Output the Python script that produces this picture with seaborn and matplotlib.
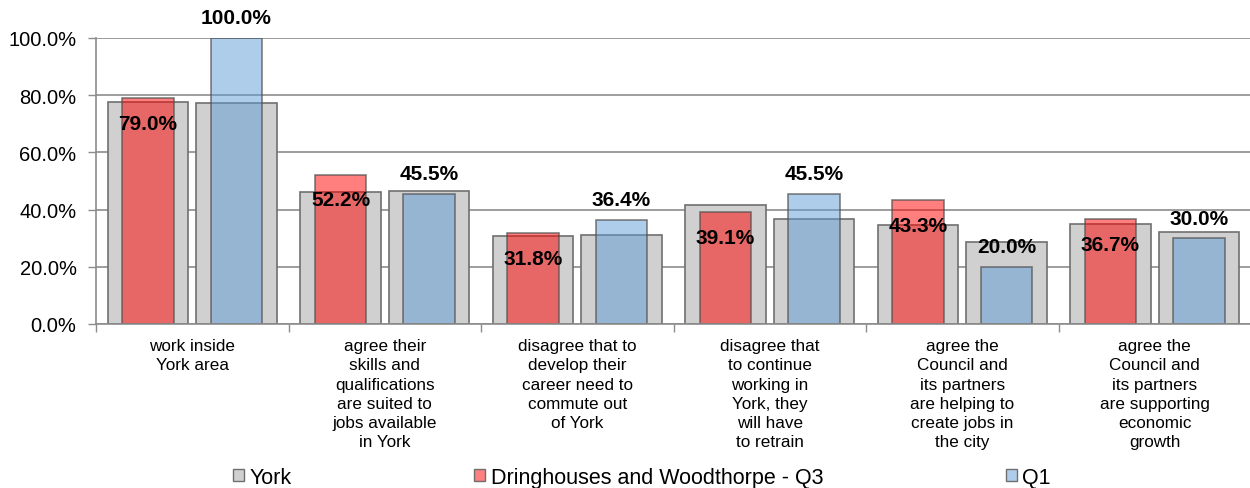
import pandas as pd
import numpy as np
import matplotlib.pyplot as plt
from matplotlib.patches import Patch
from matplotlib.ticker import PercentFormatter, FixedLocator
import seaborn as sns

sns.set_theme(style="white")
plt.rcParams['font.family'] = ['Liberation Sans', 'DejaVu Sans']
plt.rcParams['text.color'] = 'black'
plt.rcParams['xtick.color'] = 'black'
plt.rcParams['ytick.color'] = 'black'

# categories and values
categories = [
    "work inside\nYork area",
    "agree their\nskills and\nqualifications\nare suited to\njobs available\nin York",
    "disagree that to\ndevelop their\ncareer need to\ncommute out\nof York",
    "disagree that\nto continue\nworking in\nYork, they\nwill have\nto retrain",
    "agree the\nCouncil and\nits partners\nare helping to\ncreate jobs in\nthe city",
    "agree the\nCouncil and\nits partners\nare supporting\neconomic\ngrowth",
]
york_q3 = [77.7, 46.2, 30.9, 41.7, 34.7, 35.1]
york_q1 = [77.3, 46.6, 31.1, 36.8, 28.8, 32.3]
ward_q3 = [79.0, 52.2, 31.8, 39.1, 43.3, 36.7]
ward_q1 = [100.0, 45.5, 36.4, 45.5, 20.0, 30.0]
quarters = ["Q3", "Q1"]

york_df = pd.DataFrame({
    "category": categories * 2,
    "quarter": ["Q3"] * 6 + ["Q1"] * 6,
    "value": york_q3 + york_q1,
})
ward_df = pd.DataFrame({
    "category": categories * 2,
    "quarter": ["Q3"] * 6 + ["Q1"] * 6,
    "value": ward_q3 + ward_q1,
})

fig = plt.figure(figsize=(12.5, 4.89), dpi=100)
ax = fig.add_axes([96 / 1250, 1 - 325 / 489, 1155 / 1250, 286 / 489])

# wide grey York bars behind
sns.barplot(data=york_df, x="category", y="value", hue="quarter", hue_order=quarters,
            palette=["#D0D0D0", "#D0D0D0"], width=0.92, gap=0.087,
            edgecolor="#6F6F6F", linewidth=1.2, errorbar=None, legend=False, ax=ax)
# narrow ward bars in front (semi transparent)
sns.barplot(data=ward_df, x="category", y="value", hue="quarter", hue_order=quarters,
            palette=["#FF0000", "#5F9BD7"], width=0.92, gap=0.42,
            edgecolor="#555555", linewidth=1.2, errorbar=None, legend=False, ax=ax)

red_bars = ax.containers[2]
blue_bars = ax.containers[3]
for b in red_bars:
    b.set_facecolor((1.0, 0.0, 0.0, 0.5))
    b.set_edgecolor((0.3, 0.3, 0.3, 0.7))
for b in blue_bars:
    b.set_facecolor((0.37, 0.61, 0.84, 0.5))
    b.set_edgecolor((0.3, 0.3, 0.3, 0.7))

# data labels
for b, v in zip(red_bars, ward_q3):
    ax.annotate(f"{v:.1f}%", (b.get_x() + b.get_width() / 2, b.get_height()),
                xytext=(0, -18), textcoords="offset points", ha="center", va="center",
                fontsize=15, fontweight="bold", color="black", annotation_clip=False)
for b, v in zip(blue_bars, ward_q1):
    ax.annotate(f"{v:.1f}%", (b.get_x() + b.get_width() / 2, b.get_height()),
                xytext=(0, 14.5), textcoords="offset points", ha="center", va="center",
                fontsize=15, fontweight="bold", color="black", annotation_clip=False)

ax.set_ylim(0, 100)
ax.set_xlim(-0.5, 5.5)
ax.set_yticks(np.arange(0, 101, 20))
ax.yaxis.set_major_formatter(PercentFormatter(decimals=1))
ax.set_axisbelow(True)
ax.yaxis.grid(True, color="#8C8C8C", linewidth=1.2)
ax.xaxis.grid(False)
ax.set_xlabel("")
ax.set_ylabel("")

ax.tick_params(axis="y", length=6, width=1, color="#8C8C8C", direction="out",
               labelsize=14.5, labelcolor="black", pad=8, left=True)
ax.tick_params(axis="x", which="major", length=0, labelsize=12.3, labelcolor="black", pad=10)
ax.xaxis.set_minor_locator(FixedLocator(np.arange(-0.5, 6, 1)))
ax.tick_params(axis="x", which="minor", length=6, width=1, color="#8C8C8C",
               direction="out", bottom=True)
for lbl in ax.get_xticklabels():
    lbl.set_linespacing(1.36)

for s in ["top", "right"]:
    ax.spines[s].set_visible(False)
for s in ["left", "bottom"]:
    ax.spines[s].set_color("#8C8C8C")
    ax.spines[s].set_linewidth(1.2)

handles = [
    Patch(facecolor="#D0D0D0", edgecolor="#6F6F6F", label="York"),
    Patch(facecolor="#FF8080", edgecolor="#6F6F6F", label="Dringhouses and Woodthorpe - Q3"),
    Patch(facecolor="#AFCDEB", edgecolor="#6F6F6F", label="Q1"),
]
fig.legend(handles=handles, loc="center", bbox_to_anchor=(642 / 1250, 1 - 478.5 / 489),
           ncol=3, frameon=False, fontsize=15.5, handlelength=0.5, handleheight=0.5,
           handletextpad=0.25, columnspacing=8.5, borderaxespad=0, labelcolor="black")

fig.savefig("out.png", dpi=100)
